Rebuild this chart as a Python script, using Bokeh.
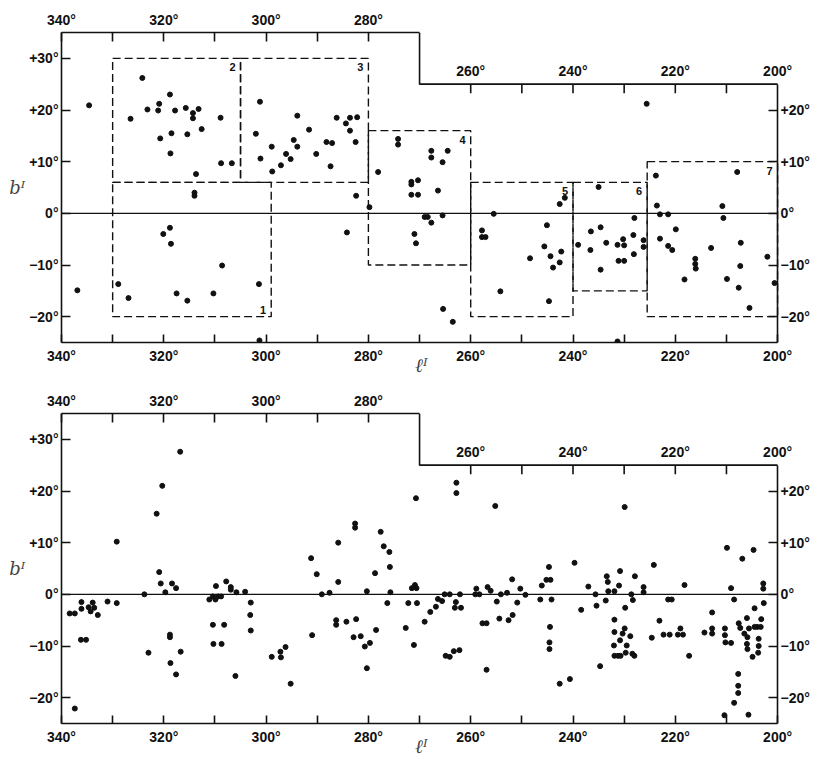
import math
from bokeh.plotting import figure
from bokeh.models import Range1d, FixedTicker, LinearAxis, ColumnDataSource, Label
from bokeh.layouts import column
from bokeh.core.properties import value
from bokeh.embed import file_html
from bokeh.resources import INLINE

# ---------------- axes / frame values ----------------
L_MAX, L_MIN = 340, 200          # galactic longitude of the chart frame (reversed)
L_VIEW_END = 192.2               # view extends past 200 so right-hand labels are not clipped
B_MIN, B_MAX = -25, 35           # galactic latitude shown
L_STEP, B_STEP = 270, 25         # frame steps down to +25 deg east of l=270
L_LABELED = [340, 320, 300, 280, 260, 240, 220, 200]
L_MINOR = [330, 310, 290, 270, 250, 230, 210]
L_TICKS_RIGHT_TOP = [260, 250, 240, 230, 220, 210]
L_LABELS_RIGHT_TOP = [260, 240, 220, 200]
B_TICKS_LEFT = [30, 20, 10, 0, -10, -20]
B_TICKS_RIGHT = [20, 10, 0, -10, -20]
X_TITLE = "ℓᴵ"
Y_TITLE = "bᴵ"

# ---------------- upper panel: objects and regions ----------------
TOP_L = [334.6, 336.9, 324.2, 326.5, 323.2, 320.9, 321.1, 320.7, 318.8, 317.8,
         318.5, 318.7, 315.7, 314.3, 313.2, 314.3, 315.4, 312.6, 308.9, 308.8,
         306.7, 313.7, 314.0, 314.0, 301.2, 302.0, 301.1, 298.9, 298.8, 297.1,
         296.1, 295.2, 294.6, 293.9, 293.9, 291.6, 290.2, 288.2, 287.1, 287.4,
         286.2, 284.4, 283.6, 283.6, 282.2, 282.5, 282.4, 284.2, 279.8, 278.1,
         274.2, 274.2, 271.6, 271.6, 270.3, 271.6, 270.3, 271.0, 270.7, 301.3,
         328.9, 326.9, 320.1, 318.8, 318.6, 317.5, 315.4, 310.3, 308.6, 301.4,
         267.7, 267.7, 264.5, 265.5, 266.4, 269.0, 268.4, 267.7, 265.5, 265.4,
         263.5, 257.8, 257.8, 257.1, 255.5, 254.2, 248.4, 245.1, 245.6, 244.4,
         243.9, 242.6, 242.3, 244.7, 242.6, 241.6, 239.0, 236.5, 236.6, 235.0,
         234.6, 234.6, 233.5, 231.3, 231.1, 230.2, 230.0, 230.0, 228.2, 228.0,
         228.1, 226.2, 226.2, 231.3, 225.6, 223.8, 223.6, 223.0, 221.4, 223.0,
         221.4, 220.6, 219.9, 218.2, 216.1, 216.1, 216.0, 213.0, 210.8, 210.6,
         209.9, 207.9, 207.2, 207.3, 207.6, 205.5, 202.0, 200.6]
TOP_B = [20.9, -14.9, 26.2, 18.3, 20.1, 21.2, 19.9, 14.5, 23.0, 19.9,
         15.5, 11.6, 20.4, 19.4, 20.2, 18.4, 15.3, 16.3, 18.5, 9.7,
         9.7, 7.6, 4.0, 3.4, 21.6, 15.4, 10.6, 12.9, 8.1, 9.3,
         11.5, 10.5, 14.2, 18.9, 12.9, 16.2, 11.5, 13.8, 13.6, 9.1,
         18.5, 17.4, 18.5, 16.0, 18.6, 13.8, 3.4, -3.7, 1.2, 8.0,
         14.4, 13.3, 6.1, 5.6, 6.4, 3.6, 3.6, -4.0, -5.8, -24.6,
         -13.7, -16.4, -4.0, -2.8, -5.9, -15.5, -16.9, -15.5, -10.1, -13.7,
         12.1, 10.8, 12.1, 9.9, 4.4, -0.7, -0.7, -1.8, -0.4, -18.5,
         -21.0, -3.3, -4.6, -4.6, -0.1, -15.1, -8.7, -2.3, -6.4, -8.3,
         -10.5, -9.5, -7.4, -17.0, 1.8, 3.0, -6.1, -3.5, -7.1, 5.1,
         -2.7, -10.9, -5.7, -6.1, -9.2, -5.0, -6.2, -9.2, -4.2, -0.9,
         -7.9, -5.2, -6.5, -24.8, 21.2, 7.3, 1.5, -0.2, -0.2, -4.9,
         -6.3, -7.1, -3.1, -12.8, -8.8, -9.8, -10.7, -6.7, 1.4, -0.9,
         -12.7, 8.0, -5.7, -10.2, -14.4, -18.3, -8.4, -13.5]

REGION_ID = ["1", "2", "3", "4", "5", "6", "7"]
REGION_L_HI = [330, 330, 305, 280, 260, 240, 225.5]
REGION_L_LO = [299, 305, 280, 260, 240, 225.5, 200]
REGION_B_LO = [-20, 6, 6, -10, -20, -15, -20]
REGION_B_HI = [6, 30, 30, 16, 6, 6, 10]

# ---------------- lower panel: objects ----------------
BOT_L = [338.4, 337.4, 336.1, 336.1, 336.2, 335.2, 334.7, 333.9, 334.3, 333.6,
         332.9, 331.0, 329.2, 329.2, 337.4, 323.8, 323.0, 321.4, 320.3, 320.9,
         320.6, 319.7, 318.4, 317.6, 316.8, 318.8, 318.8, 318.7, 317.6, 316.7,
         311.1, 310.4, 309.9, 309.8, 309.4, 308.8, 310.4, 310.3, 308.7, 308.2,
         307.8, 306.9, 306.9, 305.8, 304.1, 306.0, 303.0, 303.1, 303.0, 298.9,
         297.2, 297.1, 296.2, 295.2, 291.2, 290.1, 291.0, 289.1, 287.6, 285.9,
         285.9, 286.3, 286.3, 284.3, 282.6, 282.6, 282.4, 282.9, 281.5, 280.7,
         280.3, 279.7, 280.3, 278.5, 278.7, 277.6, 277.0, 275.9, 275.8, 275.7,
         276.3, 272.7, 272.2, 271.1, 270.7, 271.5, 270.9, 270.6, 270.5, 269.0,
         267.9, 266.8, 266.4, 265.6, 265.1, 264.1, 264.9, 264.1, 263.3, 262.2,
         262.8, 262.8, 262.9, 263.1, 261.9, 262.1, 259.1, 258.3, 258.9, 257.7,
         256.9, 256.9, 256.7, 256.1, 255.2, 254.9, 254.4, 254.1, 252.9, 252.6,
         251.8, 251.9, 250.9, 250.3, 249.3, 246.4, 246.1, 245.2, 244.4, 244.7,
         244.2, 244.5, 244.6, 244.6, 242.6, 240.6, 239.7, 238.4, 237.0, 235.6,
         235.4, 234.7, 233.6, 233.4, 233.2, 233.1, 231.9, 230.8, 231.0, 231.9,
         231.9, 232.0, 231.9, 231.2, 230.7, 230.8, 230.3, 229.9, 229.5, 229.9,
         229.8, 229.7, 228.8, 228.6, 228.3, 228.4, 228.0, 227.9, 226.2, 226.2,
         224.6, 224.2, 223.1, 222.3, 221.4, 220.7, 221.1, 219.5, 219.0, 218.5,
         218.2, 217.3, 214.3, 212.8, 212.8, 212.8, 210.3, 210.3, 210.2, 209.1,
         209.9, 209.1, 208.5, 210.4, 208.5, 207.7, 207.7, 207.7, 205.7, 207.6,
         207.3, 206.9, 206.5, 206.0, 205.9, 206.0, 205.9, 205.6, 204.9, 204.7,
         204.5, 204.5, 204.0, 203.3, 203.7, 203.7, 203.8, 203.2, 202.8, 202.8,
         202.7]
BOT_B = [-3.7, -3.7, -1.5, -2.8, -8.8, -8.8, -2.5, -1.6, -3.3, -2.6,
         -4.0, -1.4, -1.7, 10.2, -22.1, 0.0, -11.3, 15.6, 21.0, 4.3,
         2.1, 0.4, 2.1, 1.2, 27.6, -7.8, -8.3, -13.3, -15.5, -11.1,
         -1.0, -0.4, -1.0, 1.6, -0.4, -0.4, -5.9, -9.6, -9.6, -5.9,
         2.5, 1.4, 0.9, 0.4, 0.5, -15.8, -1.6, -4.0, -7.0, -12.1,
         -11.1, -12.2, -10.2, -17.3, 7.0, 3.9, -7.9, 0.0, 0.3, 10.0,
         2.4, -5.0, -5.9, -5.3, 13.7, 12.9, -4.8, -8.3, -8.1, -10.1,
         -14.3, -9.4, 0.6, -6.9, 4.1, 12.1, 9.3, 8.2, 5.3, 0.4,
         -1.7, -6.5, -1.7, -9.8, 18.6, 1.2, 1.8, 1.2, -1.7, -5.3,
         -3.4, -2.4, -0.9, -1.3, 0.0, 0.0, -11.9, -12.1, -11.0, -10.8,
         21.6, 19.6, -1.5, -2.6, -2.6, 0.0, 0.0, 0.0, 1.1, -5.6,
         -5.6, -14.6, 1.4, 0.7, 17.1, -1.4, -4.7, 0.0, 0.3, -5.0,
         -4.0, 2.9, -1.6, 1.1, -0.1, -1.0, 1.7, 2.8, 2.8, 5.3,
         -1.0, -6.3, -9.3, -10.6, -17.3, -16.4, 6.1, -3.0, 1.5, 0.0,
         -2.2, -13.9, -1.2, 3.5, 2.4, 0.6, 0.6, 4.5, 1.7, -4.9,
         -7.3, -9.9, -11.9, -11.9, -11.9, -8.9, -7.6, -6.6, -9.9, 16.9,
         -2.6, -11.3, -8.1, 0.0, -1.1, -11.5, -11.9, 3.5, 1.4, 0.4,
         -8.4, 5.7, -5.1, -7.8, -1.0, -1.0, -7.8, -7.8, -6.6, -7.8,
         1.8, -11.9, -7.4, -3.5, -6.6, -7.6, -6.6, -7.9, -9.3, -9.4,
         9.0, 1.2, -1.0, -23.4, -21.0, -15.4, -17.7, -19.1, -23.3, -5.6,
         -6.5, 6.9, -7.6, -4.6, -8.3, -9.6, -10.6, -6.6, -12.1, 8.6,
         -2.7, -6.3, -6.3, -6.3, -8.6, -10.0, -11.3, -4.8, 2.1, 1.1,
         -1.7]

FONT = "Liberation Sans"
INK = "#111111"


def deg(v, signed=False):
    if signed:
        if v > 0:
            return f"+{v}°"
        if v < 0:
            return f"\u2212{abs(v)}°"
    return f"{v}°"


def style_axis(ax, tick_in):
    ax.axis_line_color = INK
    ax.axis_line_width = 1.6
    ax.major_tick_in = tick_in
    ax.major_tick_out = 0
    ax.minor_tick_in = tick_in
    ax.minor_tick_out = 0
    ax.major_tick_line_color = INK
    ax.major_tick_line_width = 1.6
    ax.minor_tick_line_color = INK
    ax.minor_tick_line_width = 1.6
    ax.major_label_text_font = FONT
    ax.major_label_text_font_size = "14px"
    ax.major_label_text_font_style = "bold"
    ax.major_label_text_color = INK
    ax.major_label_standoff = 5


def make_panel(pts_l, pts_b, height, border_top, border_bottom):
    p = figure(width=819, height=height,
               x_range=Range1d(L_MAX, L_VIEW_END), y_range=Range1d(B_MIN, B_MAX),
               x_axis_location=None, y_axis_location=None,
               output_backend="svg", toolbar_location=None,
               min_border_left=61, min_border_right=2,
               min_border_top=border_top, min_border_bottom=border_bottom)
    p.outline_line_color = None
    p.grid.visible = False
    p.background_fill_color = "white"

    # axis title shifted left (non-breaking spaces) so it sits under l = 270
    bottom = LinearAxis(ticker=FixedTicker(ticks=L_LABELED, minor_ticks=L_MINOR),
                        major_label_overrides={l: deg(l) for l in L_LABELED},
                        axis_label=X_TITLE + "\u00a0" * 6, bounds=(L_MIN, L_MAX))
    style_axis(bottom, 8)
    bottom.axis_label_text_font = "DejaVu Serif"
    bottom.axis_label_text_font_style = "italic"
    bottom.axis_label_text_font_size = "19px"
    bottom.axis_label_standoff = -13
    p.add_layout(bottom, "below")

    top_major = [l for l in L_LABELED if l > L_STEP]
    top_minor = [l for l in L_MINOR if l > L_STEP]
    top = LinearAxis(ticker=FixedTicker(ticks=top_major, minor_ticks=top_minor),
                     major_label_overrides={l: deg(l) for l in top_major},
                     bounds=(L_STEP, L_MAX))
    style_axis(top, 9)
    p.add_layout(top, "above")

    left = LinearAxis(ticker=FixedTicker(ticks=B_TICKS_LEFT),
                      major_label_overrides={b: deg(b, True) for b in B_TICKS_LEFT},
                      axis_label=Y_TITLE, axis_label_orientation="horizontal")
    style_axis(left, 9)
    left.major_label_standoff = 3
    left.axis_label_text_font = "DejaVu Serif"
    left.axis_label_text_font_style = "italic"
    left.axis_label_text_font_size = "18px"
    left.axis_label_standoff = 1
    p.add_layout(left, "left")

    right = LinearAxis(ticker=FixedTicker(ticks=B_TICKS_RIGHT),
                       major_label_overrides={b: deg(b, True) for b in B_TICKS_RIGHT},
                       bounds=(B_MIN, B_STEP), fixed_location=L_MIN)
    style_axis(right, 9)
    right.major_label_standoff = 3
    p.add_layout(right, "right")

    # stepped part of the frame
    p.line(x=[L_STEP, L_STEP, L_MIN], y=[B_MAX, B_STEP, B_STEP],
           line_color=INK, line_width=1.6)
    # ticks and labels on the lowered top edge
    p.ray(x=L_TICKS_RIGHT_TOP, y=[B_STEP] * len(L_TICKS_RIGHT_TOP),
          length=9, length_units="screen", angle=-math.pi / 2,
          line_color=INK, line_width=1.6)
    for l in L_LABELS_RIGHT_TOP:
        p.add_layout(Label(x=l, y=B_STEP, text=deg(l), x_units="data", y_units="data",
                           text_align="center", text_baseline="bottom", y_offset=5,
                           text_font=FONT, text_font_size="14px",
                           text_font_style="bold", text_color=INK))

    # galactic equator
    p.line(x=[L_MAX, L_MIN], y=[0, 0], line_color=INK, line_width=1.3)

    p.scatter(x=pts_l, y=pts_b, size=5, color=INK)
    return p


p1 = make_panel(TOP_L, TOP_B, 389, 32, 47)
p1.quad(left=REGION_L_HI, right=REGION_L_LO, bottom=REGION_B_LO, top=REGION_B_HI,
        fill_color=None, line_color=INK, line_width=1.4, line_dash="8 4")
reg_src = ColumnDataSource(dict(
    x=REGION_L_LO,
    y=[bl if rid == "1" else bh for rid, bl, bh in zip(REGION_ID, REGION_B_LO, REGION_B_HI)],
    t=REGION_ID,
    base=["bottom" if rid == "1" else "top" for rid in REGION_ID],
    dy=[-3 if rid == "1" else 5 for rid in REGION_ID],
))
p1.text(x="x", y="y", text="t", source=reg_src, text_align="right",
        text_baseline="base", x_offset=-5, y_offset="dy",
        text_font=value(FONT), text_font_size="11px", text_font_style="bold",
        text_color=INK)

p2 = make_panel(BOT_L, BOT_B, 376, 24, 42)

layout = column(p1, p2, spacing=0)
open("out.html", "w").write(file_html(layout, INLINE))
